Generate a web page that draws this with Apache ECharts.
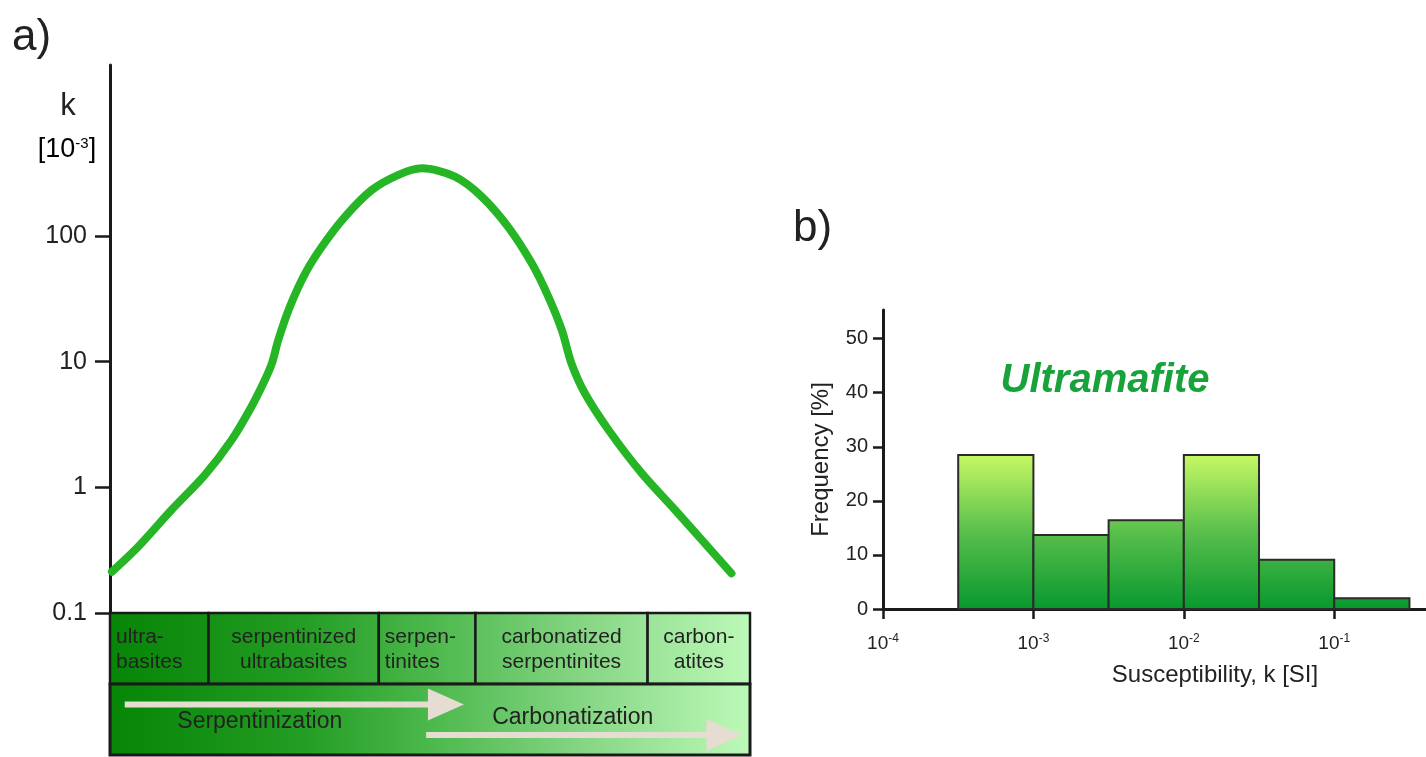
<!DOCTYPE html>
<html>
<head>
<meta charset="utf-8">
<script src="https://cdn.jsdelivr.net/npm/echarts@6/dist/echarts.min.js"></script>
<style>
  html, body { margin: 0; padding: 0; background: #fff; }
  #chart { width: 1426px; height: 757px; }
</style>
</head>
<body>
<div id="chart"></div>
<script>
// ---- a) susceptibility k [10^-3] along the alteration sequence (position 0–100) ----
const seqX = [0.3, 4.4, 9.6, 14.8, 19.0, 22.1, 24.2, 25.3, 26.3, 28.1, 30.5, 33.1, 36.7, 40.9, 45.0, 48.7,
              53.9, 58.1, 62.2, 65.9, 68.5, 70.6, 72.1, 74.2, 77.9, 83.1, 88.3, 97.1];
const seqK = [0.213, 0.337, 0.660, 1.25, 2.38, 4.38, 7.14, 9.69, 14.9, 27.3, 50.4, 82.1, 142, 232, 305, 345,
              296, 205, 118, 60.5, 32.8, 17.8, 9.69, 5.60, 2.86, 1.29, 0.660, 0.207];
const kTicks = [0.1, 1, 10, 100];

// rock types and their extent on the same 0–100 scale
const rockNames = ['ultra-\nbasites', 'serpentinized\nultrabasites', 'serpen-\ntinites',
                   'carbonatized\nserpentinites', 'carbon-\natites'];
const rockBounds = [0, 15.4, 42.0, 57.1, 84.0, 100];

// alteration processes: arrow extent and label anchor
const processNames = ['Serpentinization', 'Carbonatization'];
const processFrom = [2.3, 49.4];
const processTo = [55.3, 98.8];
const processLabelAt = [23.4, 72.3];

// ---- b) histogram of susceptibility, Ultramafite ----
const binEdges = [3.162e-4, 1e-3, 3.162e-3, 1e-2, 3.162e-2, 1e-1, 3.162e-1];
const binFreq = [28.5, 13.7, 16.4, 28.5, 9.1, 2.0];
const freqTicks = [0, 10, 20, 30, 40, 50];
const suscTicks = [1e-4, 1e-3, 1e-2, 1e-1];

const FONT = '"Liberation Sans", Arial, Helvetica, sans-serif';
const INK = '#1a1a1a';

const chart = echarts.init(document.getElementById('chart'), null, { renderer: 'canvas' });

// horizontal green ramp shared by both rows of the rock/process box
function boxRamp(api) {
  const gx0 = api.coord([0, 0])[0];
  const gx1 = api.coord([100, 0])[0];
  return new echarts.graphic.LinearGradient(gx0, 0, gx1, 0, [
    { offset: 0, color: '#068506' },
    { offset: 0.3, color: '#239d23' },
    { offset: 0.5, color: '#4cb84c' },
    { offset: 0.75, color: '#88d786' },
    { offset: 1, color: '#bcf9b8' }
  ], true);
}

const cellAlign = ['left', 'center', 'left', 'center', 'center'];

function renderRock(params, api) {
  const i = params.dataIndex;
  const p0 = api.coord([api.value(0), api.value(1)]);
  const p1 = api.coord([api.value(2), api.value(3)]);
  const align = cellAlign[i];
  const tx = align === 'left' ? p0[0] + 6 : (p0[0] + p1[0]) / 2;
  return {
    type: 'group',
    children: [
      {
        type: 'rect',
        shape: { x: p0[0], y: p0[1], width: p1[0] - p0[0], height: p1[1] - p0[1] },
        style: { fill: boxRamp(api), stroke: INK, lineWidth: 2.5 }
      },
      {
        type: 'text',
        style: {
          text: rockNames[i], x: tx, y: (p0[1] + p1[1]) / 2 + 1,
          align: align, verticalAlign: 'middle',
          font: '21px ' + FONT, lineHeight: 25, fill: '#222'
        }
      }
    ]
  };
}

function arrowShape(x0, x1, y) {
  const t = 3, hl = 36, hh = 16;
  return [[x0, y - t], [x1 - hl, y - t], [x1 - hl, y - hh], [x1, y], [x1 - hl, y + hh], [x1 - hl, y + t], [x0, y + t]];
}

function renderProcessRow(params, api) {
  const p0 = api.coord([api.value(0), api.value(1)]);
  const p1 = api.coord([api.value(2), api.value(3)]);
  const arrowRowY = [1.29, 1.72];
  const labelRowY = [1.53, 1.47];
  const children = [{
    type: 'rect',
    shape: { x: p0[0], y: p0[1], width: p1[0] - p0[0], height: p1[1] - p0[1] },
    style: { fill: boxRamp(api), stroke: INK, lineWidth: 3 }
  }];
  processNames.forEach((name, k) => {
    const a = api.coord([processFrom[k], arrowRowY[k]]);
    const b = api.coord([processTo[k], arrowRowY[k]]);
    children.push({
      type: 'polygon',
      shape: { points: arrowShape(a[0], b[0], a[1]) },
      style: { fill: '#e5ddd1' }
    });
  });
  processNames.forEach((name, k) => {
    const c = api.coord([processLabelAt[k], labelRowY[k]]);
    children.push({
      type: 'text',
      style: { text: name, x: c[0], y: c[1], align: 'center', verticalAlign: 'middle',
               font: '23px ' + FONT, fill: '#222' }
    });
  });
  return { type: 'group', children };
}

function renderBin(params, api) {
  const lo = api.value(0), hi = api.value(2), f = api.value(3);
  const pTop = api.coord([lo, f]);
  const pBot = api.coord([hi, 0]);
  const yBase = api.coord([lo, 0])[1];
  const yPeak = api.coord([lo, Math.max.apply(null, binFreq)])[1];
  const fill = new echarts.graphic.LinearGradient(0, yBase, 0, yPeak, [
    { offset: 0, color: '#08982e' },
    { offset: 0.5, color: '#59bf4c' },
    { offset: 1, color: '#c6f864' }
  ], true);
  return {
    type: 'rect',
    shape: { x: pTop[0], y: pTop[1], width: pBot[0] - pTop[0], height: pBot[1] - pTop[1] },
    style: { fill: fill, stroke: '#2b2b2b', lineWidth: 2 }
  };
}

function powerLabel(v) {
  return '{b|10}{s|' + Math.round(Math.log10(v)) + '}';
}

const option = {
  animation: false,
  backgroundColor: '#ffffff',
  textStyle: { fontFamily: FONT },
  grid: [
    { left: 110, top: 65, width: 640, height: 548 },   // a) curve
    { left: 110, top: 613, width: 640, height: 142 },  // a) rock / process box
    { left: 883, top: 310, width: 543, height: 299 }   // b) histogram
  ],
  xAxis: [
    { gridIndex: 0, type: 'value', min: 0, max: 100, show: false },
    { gridIndex: 1, type: 'value', min: 0, max: 100, show: false },
    {
      gridIndex: 2, type: 'log', logBase: 10, min: 1e-4, max: 0.4074,
      axisLine: { show: true, onZero: false, lineStyle: { color: INK, width: 3 } },
      axisTick: { show: true, customValues: suscTicks, length: 10, lineStyle: { color: INK, width: 2.5 } },
      minorTick: { show: false },
      splitLine: { show: false },
      axisLabel: {
        customValues: suscTicks, margin: 24, formatter: powerLabel,
        rich: {
          b: { fontSize: 19, color: '#222', fontFamily: FONT },
          s: { fontSize: 12, color: '#222', fontFamily: FONT, verticalAlign: 'top', padding: [0, 0, 9, 0] }
        }
      }
    }
  ],
  yAxis: [
    {
      gridIndex: 0, type: 'log', logBase: 10, min: 0.1, max: 2291,
      axisLine: { show: true, lineStyle: { color: INK, width: 3 } },
      axisTick: { show: true, customValues: kTicks, length: 15, lineStyle: { color: INK, width: 2.5 } },
      minorTick: { show: false },
      splitLine: { show: false },
      axisLabel: { customValues: kTicks, margin: 23, fontSize: 25, color: '#222', formatter: v => String(v) }
    },
    { gridIndex: 1, type: 'value', min: 0, max: 2, inverse: true, show: false },
    {
      gridIndex: 2, type: 'value', min: 0, max: 55.3,
      name: 'Frequency [%]', nameLocation: 'middle', nameGap: 50, nameRotate: 90,
      nameTextStyle: { fontSize: 24, color: '#222', fontFamily: FONT },
      axisLine: { show: true, lineStyle: { color: INK, width: 3 } },
      axisTick: { show: true, customValues: freqTicks, length: 10, lineStyle: { color: INK, width: 2.5 } },
      splitLine: { show: false },
      axisLabel: { customValues: freqTicks, margin: 15, fontSize: 20, color: '#222' }
    }
  ],
  series: [
    {
      type: 'line', xAxisIndex: 0, yAxisIndex: 0,
      data: seqX.map((x, i) => [x, seqK[i]]),
      smooth: 0.3, showSymbol: false, clip: false,
      lineStyle: { color: '#25b525', width: 8, cap: 'round', join: 'round' }
    },
    {
      type: 'custom', xAxisIndex: 1, yAxisIndex: 1, clip: false,
      data: rockNames.map((n, i) => [rockBounds[i], 0, rockBounds[i + 1], 1]),
      encode: { x: [0, 2], y: [1, 3] },
      renderItem: renderRock, z: 3
    },
    {
      type: 'custom', xAxisIndex: 1, yAxisIndex: 1, clip: false,
      data: [[0, 1, 100, 2]],
      encode: { x: [0, 2], y: [1, 3] },
      renderItem: renderProcessRow, z: 3
    },
    {
      type: 'custom', xAxisIndex: 2, yAxisIndex: 2, clip: false,
      data: binFreq.map((f, i) => [binEdges[i], 0, binEdges[i + 1], f]),
      encode: { x: [0, 2], y: [1, 3] },
      renderItem: renderBin, z: 1
    }
  ],
  graphic: [
    { type: 'text', left: 12, top: 16, style: { text: 'a)', font: '44px ' + FONT, fill: '#222' } },
    { type: 'text', left: 793, top: 207, style: { text: 'b)', font: '44px ' + FONT, fill: '#222' } },
    { type: 'text', x: 68, y: 106, style: { text: 'k', font: '31px ' + FONT, fill: '#222', align: 'center', verticalAlign: 'middle' } },
    {
      type: 'text', x: 67, y: 150,
      style: {
        text: '{b|[10}{s|-3}{b|]}', align: 'center', verticalAlign: 'middle',
        rich: {
          b: { fontSize: 27, fontFamily: FONT, color: '#222' },
          s: { fontSize: 15, fontFamily: FONT, color: '#222', verticalAlign: 'top', padding: [0, 0, 11, 0] }
        }
      }
    },
    {
      type: 'text', x: 1105, y: 381,
      style: { text: 'Ultramafite', font: 'italic bold 40px ' + FONT, fill: '#17a23a', align: 'center', verticalAlign: 'middle' }
    },
    {
      type: 'text', x: 1215, y: 675,
      style: { text: 'Susceptibility, k [SI]', font: '24px ' + FONT, fill: '#222', align: 'center', verticalAlign: 'middle' }
    }
  ]
};

chart.setOption(option);
</script>
</body>
</html>
